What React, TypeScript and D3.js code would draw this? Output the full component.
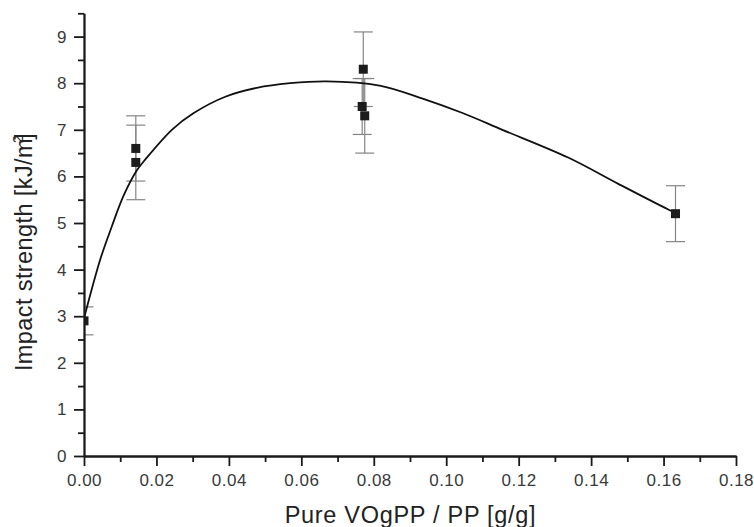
import React, { useEffect, useRef } from "react";
import * as d3 from "d3";

const width = 754;
const height = 527;

// measured points (x in g/g, impact strength in kJ/m2, error +/-)
const pointX = [0, 0.0143, 0.0143, 0.0771, 0.0768, 0.0775, 0.1633];
const pointY = [2.9, 6.6, 6.3, 8.3, 7.5, 7.3, 5.2];
const pointErr = [0.3, 0.7, 0.8, 0.8, 0.6, 0.8, 0.6];

// fitted curve
const curveX = [
	0, 0.0045, 0.0077, 0.0109, 0.0146, 0.017, 0.0244, 0.0303, 0.039, 0.0477,
	0.0569, 0.067, 0.0816, 0.0935, 0.1045, 0.1155, 0.1338, 0.1475, 0.1613, 0.1633,
];
const curveY = [
	2.95, 4.22, 4.93, 5.58, 6.13, 6.37, 7.01, 7.36, 7.71, 7.9, 8.0, 8.04, 7.95,
	7.67, 7.36, 7.0, 6.4, 5.84, 5.29, 5.22,
];

const xTicks = [0, 0.02, 0.04, 0.06, 0.08, 0.1, 0.12, 0.14, 0.16, 0.18];
const xMinor = [0.01, 0.03, 0.05, 0.07, 0.09, 0.11, 0.13, 0.15, 0.17];
const yTicks = [0, 1, 2, 3, 4, 5, 6, 7, 8, 9];
const yMinor = [0.5, 1.5, 2.5, 3.5, 4.5, 5.5, 6.5, 7.5, 8.5, 9.5];

const xTitle = "Pure VOgPP / PP [g/g]";

const font = "'Liberation Sans', Arial, Helvetica, sans-serif";

export default function App() {
	const ref = useRef<SVGSVGElement | null>(null);

	useEffect(() => {
		const svg = d3.select(ref.current);
		svg.selectAll("*").remove();

		const x = d3.scaleLinear().domain([0, 0.18]).range([84, 736]);
		const y = d3.scaleLinear().domain([0, 9.5]).range([456, 13.3]);

		svg
			.append("defs")
			.append("clipPath")
			.attr("id", "plotClip")
			.append("rect")
			.attr("x", x(0))
			.attr("y", 0)
			.attr("width", x(0.18) - x(0) + 20)
			.attr("height", y(0));

		const plot = svg.append("g").attr("clip-path", "url(#plotClip)");

		// error bars
		const bars = plot
			.selectAll("g.err")
			.data(pointX.map((d, i) => ({ x: d, y: pointY[i], e: pointErr[i] })))
			.enter()
			.append("g")
			.attr("class", "err")
			.attr("stroke", "#858585")
			.attr("stroke-width", 1.2);
		bars
			.append("line")
			.attr("x1", (d) => x(d.x))
			.attr("x2", (d) => x(d.x))
			.attr("y1", (d) => y(d.y + d.e))
			.attr("y2", (d) => y(d.y - d.e));
		[1, -1].forEach((s) => {
			bars
				.append("line")
				.attr("x1", (d) => x(d.x) - 9.5)
				.attr("x2", (d) => x(d.x) + 9.5)
				.attr("y1", (d) => y(d.y + s * d.e))
				.attr("y2", (d) => y(d.y + s * d.e));
		});

		// curve
		const line = d3
			.line<number>()
			.x((d) => x(d))
			.y((_, i) => y(curveY[i]))
			.curve(d3.curveCatmullRom.alpha(0.5));
		plot
			.append("path")
			.attr("d", line(curveX))
			.attr("fill", "none")
			.attr("stroke", "#111")
			.attr("stroke-width", 1.8);

		// squares
		plot
			.selectAll("rect.pt")
			.data(pointX)
			.enter()
			.append("rect")
			.attr("class", "pt")
			.attr("x", (d) => x(d) - 4.5)
			.attr("y", (_, i) => y(pointY[i]) - 4.5)
			.attr("width", 9)
			.attr("height", 9)
			.attr("fill", "#1c1c1c");

		// axes
		const styleAxis = (g: any) => {
			g.select(".domain").attr("stroke", "#1a1a1a").attr("stroke-width", 1.8);
			g.selectAll(".tick line").attr("stroke", "#1a1a1a").attr("stroke-width", 1.8);
			g.selectAll("text")
				.attr("fill", "#3a3a3a")
				.style("font-family", font)
				.style("font-size", "17px")
				.style("letter-spacing", "0.5px");
		};

		svg
			.append("g")
			.attr("transform", `translate(0,${y(0)})`)
			.call(d3.axisBottom(x).tickValues(xMinor).tickSize(6).tickSizeOuter(0).tickFormat(() => ""))
			.call(styleAxis);
		svg
			.append("g")
			.attr("transform", `translate(0,${y(0)})`)
			.call(
				d3
					.axisBottom(x)
					.tickValues(xTicks)
					.tickSize(10)
					.tickSizeOuter(0)
					.tickPadding(8)
					.tickFormat(d3.format(".2f") as any)
			)
			.call(styleAxis);

		svg
			.append("g")
			.attr("transform", `translate(${x(0)},0)`)
			.call(d3.axisLeft(y).tickValues(yMinor).tickSize(6).tickSizeOuter(0).tickFormat(() => ""))
			.call(styleAxis);
		svg
			.append("g")
			.attr("transform", `translate(${x(0)},0)`)
			.call(
				d3
					.axisLeft(y)
					.tickValues(yTicks)
					.tickSize(10)
					.tickSizeOuter(0)
					.tickPadding(7)
					.tickFormat(d3.format("d") as any)
			)
			.call(styleAxis);

		// titles
		svg
			.append("text")
			.attr("x", 410.5)
			.attr("y", 523)
			.attr("text-anchor", "middle")
			.attr("fill", "#222")
			.style("font-family", font)
			.style("font-size", "23.5px")
			.style("letter-spacing", "0.7px")
			.text(xTitle);

		const yt = svg
			.append("text")
			.attr("transform", "translate(32,252) rotate(-90)")
			.attr("text-anchor", "middle")
			.attr("fill", "#222")
			.style("font-family", font)
			.style("font-size", "23.5px")
			.style("letter-spacing", "0.4px");
		yt.append("tspan").text("Impact strength [kJ/m");
		yt.append("tspan").attr("dx", -5).attr("dy", -9).style("font-size", "14px").text("2");
		yt.append("tspan").attr("dx", -5).attr("dy", 9).text("]");
	}, []);

	return (
		<svg
			ref={ref}
			width={width}
			height={height}
			style={{ position: "absolute", left: 0, top: 0, background: "#fff" }}
		/>
	);
}
